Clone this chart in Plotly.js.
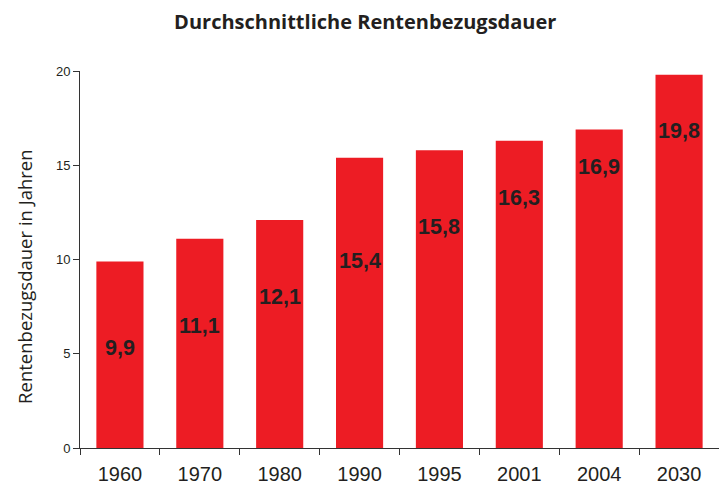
<!DOCTYPE html>
<html><head><meta charset="utf-8">
<script src="https://cdn.plot.ly/plotly-3.0.1.min.js"></script>
<style>html,body{margin:0;padding:0;background:#fff}#chart{width:719px;height:488px}</style>
</head><body><div id="chart"></div>
<script>
// Data
var years = ['1960', '1970', '1980', '1990', '1995', '2001', '2004', '2030'];
var durations = [9.9, 11.1, 12.1, 15.4, 15.8, 16.3, 16.9, 19.8];
// heights (in years, data units) at which the value labels sit inside the bars
var labelHeights = [5.3, 6.45, 8.0, 9.9, 11.7, 13.25, 14.9, 16.8];
var yTicks = [0, 5, 10, 15, 20];

var annotations = years.map(function (yr, i) {
  return {
    x: i, y: labelHeights[i], xref: 'x', yref: 'y',
    text: durations[i].toFixed(1).replace('.', ','),
    showarrow: false,
    font: {family: 'Liberation Sans, Arial, sans-serif', size: 21.5, color: '#231f20', weight: 'bold'}
  };
});
annotations.push({
  xref: 'paper', yref: 'paper', x: -0.086, y: 0.454,
  xanchor: 'center', yanchor: 'middle', textangle: -90, showarrow: false,
  text: 'Rentenbezugsdauer in Jahren',
  font: {family: 'Open Sans, sans-serif', size: 18.5, color: '#231f20'}
});

var trace = {
  type: 'bar', x: years, y: durations,
  marker: {color: '#ed1c24', line: {width: 0}},
  width: 0.59, hoverinfo: 'skip'
};

var layout = {
  width: 719, height: 488,
  margin: {l: 80, r: 0, t: 71, b: 40},
  paper_bgcolor: '#fff', plot_bgcolor: '#fff',
  showlegend: false,
  title: {
    text: '<b>Durchschnittliche Rentenbezugsdauer</b>',
    x: 0.508, xanchor: 'center', y: 0.955, yanchor: 'middle',
    font: {family: 'Open Sans, sans-serif', size: 20, color: '#231f20'}
  },
  xaxis: {
    type: 'category', tickson: 'boundaries',
    categoryorder: 'array', categoryarray: years,
    range: [-0.5, years.length - 0.5], autorange: false,
    showline: true, linecolor: '#333', linewidth: 1,
    ticks: 'outside', ticklen: 6, tickcolor: '#333',
    showgrid: false, zeroline: false, tickangle: 0,
    ticklabelstandoff: 8,
    tickfont: {family: 'Liberation Sans, Arial, sans-serif', size: 20, color: '#231f20'}
  },
  yaxis: {
    range: [0, 20], autorange: false, tickvals: yTicks,
    showline: true, linecolor: '#333', linewidth: 1,
    ticks: 'outside', ticklen: 6, tickcolor: '#333',
    showgrid: false, zeroline: false,
    tickfont: {family: 'Liberation Sans, Arial, sans-serif', size: 13, color: '#231f20'}
  },
  annotations: annotations
};

Plotly.newPlot('chart', [trace], layout, {staticPlot: true, displayModeBar: false});
</script>
</body></html>
